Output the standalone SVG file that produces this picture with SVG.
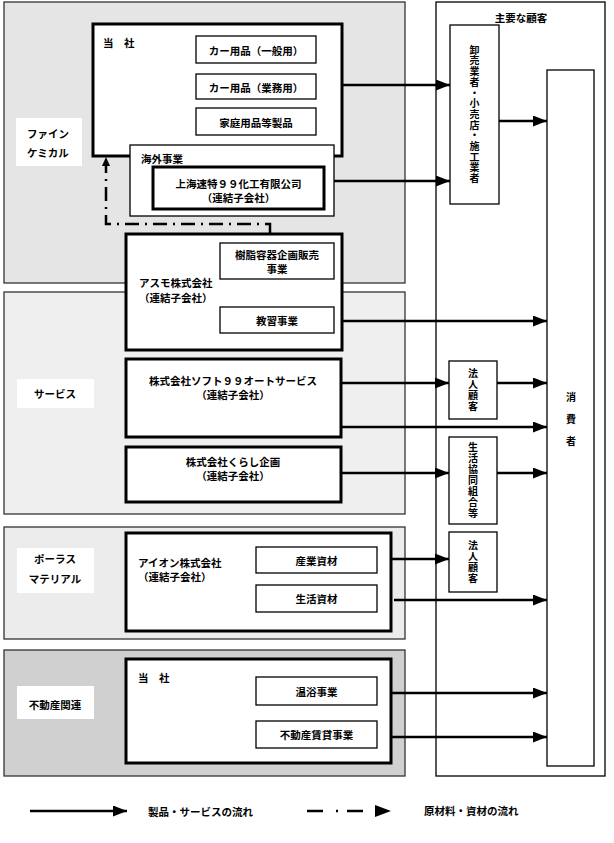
<svg xmlns="http://www.w3.org/2000/svg" width="614" height="843" viewBox="0 0 614 843">
<style>
text{font-family:"Noto Sans CJK JP","Noto Sans",sans-serif;font-size:10.5px;font-weight:bold;fill:#000;dominant-baseline:central}
.c{text-anchor:middle}
.v{writing-mode:vertical-rl;text-anchor:middle;font-size:10px;letter-spacing:1px}
.seg{stroke:#333;stroke-width:1.3}
.thin{fill:#fff;stroke:#000;stroke-width:1.3}
.thick{fill:#fff;stroke:#000;stroke-width:3}
.lbl{fill:#fff;stroke:none}
.flow{fill:none;stroke:#000;stroke-width:2.5}
.raw{fill:none;stroke:#000;stroke-width:2.5;stroke-dasharray:14,6,2,6}
</style>
<defs>
<marker id="ah" markerUnits="userSpaceOnUse" markerWidth="15" markerHeight="12" refX="14" refY="5.5" orient="auto">
<path d="M0,0 L14,5.5 L0,11 z" fill="#000"/>
</marker>
</defs>
<rect width="614" height="843" fill="#fff"/>

<g id="seg-fine">
<rect class="seg" x="4" y="2" width="401" height="281" fill="#e5e5e5"/>
<rect class="lbl" x="16" y="118" width="66" height="48"/>
<text x="27" y="133">ファイン<tspan x="27" y="152">ケミカル</tspan></text>
</g>
<g id="seg-service">
<rect class="seg" x="4" y="292" width="401" height="222" fill="#efefef"/>
<rect class="lbl" x="17" y="379" width="77" height="29"/>
<text class="c" x="55" y="393">サービス</text>
</g>
<g id="seg-porous">
<rect class="seg" x="4" y="527" width="401" height="112" fill="#ececec"/>
<rect class="lbl" x="17" y="548" width="77" height="45"/>
<text class="c" x="55" y="558">ポーラス<tspan x="55" y="578">マテリアル</tspan></text>
</g>
<g id="seg-realestate">
<rect class="seg" x="4" y="650" width="401" height="126" fill="#d0d0d0"/>
<rect class="lbl" x="17" y="686" width="77" height="33"/>
<text class="c" x="55" y="704">不動産関連</text>
</g>

<g id="n-tosha1">
<rect class="thick" x="93" y="24" width="249" height="132"/>
<text x="103" y="42">当　社</text>
</g>
<g id="n-car-general">
<rect class="thin" x="196" y="36" width="120" height="27"/>
<text class="c" x="256" y="50">カー用品（一般用）</text>
</g>
<g id="n-car-business">
<rect class="thin" x="196" y="74" width="120" height="25"/>
<text class="c" x="256" y="87">カー用品（業務用）</text>
</g>
<g id="n-household">
<rect class="thin" x="196" y="108" width="120" height="27"/>
<text class="c" x="256" y="122">家庭用品等製品</text>
</g>
<g id="n-overseas">
<rect class="thin" x="130" y="145" width="204" height="71"/>
<text x="141" y="158">海外事業</text>
</g>
<g id="n-shanghai">
<rect class="thick" x="153" y="167" width="171" height="42"/>
<text class="c" x="238.5" y="183">上海速特９９化工有限公司<tspan x="238.5" y="197">（連結子会社）</tspan></text>
</g>
<g id="n-asmo">
<rect class="thick" x="126" y="234" width="216" height="116"/>
<text x="139" y="282">アスモ株式会社<tspan x="139" y="297">（連結子会社）</tspan></text>
</g>
<g id="n-resin">
<rect class="thin" x="220" y="243" width="114" height="36"/>
<text class="c" x="277" y="254">樹脂容器企画販売<tspan x="277" y="268">事業</tspan></text>
</g>
<g id="n-driving">
<rect class="thin" x="220" y="307" width="114" height="26"/>
<text class="c" x="277" y="320">教習事業</text>
</g>
<g id="n-soft99">
<rect class="thick" x="126" y="359" width="215" height="78"/>
<text class="c" x="233" y="380">株式会社ソフト９９オートサービス<tspan x="233" y="394">（連結子会社）</tspan></text>
</g>
<g id="n-kurashi">
<rect class="thick" x="126" y="447" width="215" height="55"/>
<text class="c" x="233" y="461">株式会社くらし企画<tspan x="233" y="475">（連結子会社）</tspan></text>
</g>
<g id="n-aion">
<rect class="thick" x="126" y="533" width="265" height="98"/>
<text x="138" y="562">アイオン株式会社<tspan x="138" y="576">（連結子会社）</tspan></text>
</g>
<g id="n-industrial">
<rect class="thin" x="256" y="547" width="121" height="26"/>
<text class="c" x="316.5" y="560">産業資材</text>
</g>
<g id="n-living">
<rect class="thin" x="256" y="585" width="121" height="27"/>
<text class="c" x="316.5" y="598">生活資材</text>
</g>
<g id="n-tosha2">
<rect class="thick" x="126" y="659" width="265" height="104"/>
<text x="138" y="677">当　社</text>
</g>
<g id="n-spa">
<rect class="thin" x="256" y="677" width="121" height="28"/>
<text class="c" x="316.5" y="691">温浴事業</text>
</g>
<g id="n-rental">
<rect class="thin" x="256" y="721" width="121" height="27"/>
<text class="c" x="316.5" y="734">不動産賃貸事業</text>
</g>

<g id="n-customers">
<rect class="thin" x="436" y="2" width="169" height="774"/>
<text class="c" x="521" y="17">主要な顧客</text>
</g>
<g id="n-wholesale">
<rect class="thin" x="450" y="25" width="49" height="179"/>
<text class="v" x="474.5" y="114.5" style="letter-spacing:0.7px">卸売業者・小売店・施工業者</text>
</g>
<g id="n-consumer">
<rect class="thin" x="547" y="70" width="47" height="696"/>
<text class="v" x="571" y="425" style="letter-spacing:12px">消費者</text>
</g>
<g id="n-corp1">
<rect class="thin" x="449" y="361" width="48" height="58"/>
<text class="v" x="473" y="390.5">法人顧客</text>
</g>
<g id="n-coop">
<rect class="thin" x="449" y="437" width="48" height="87"/>
<text class="v" x="473" y="481">生活協同組合等</text>
</g>
<g id="n-corp2">
<rect class="thin" x="449" y="532" width="48" height="60"/>
<text class="v" x="473" y="562.5">法人顧客</text>
</g>

<g id="connectors">
<line class="flow" x1="342" y1="85" x2="450" y2="85" marker-end="url(#ah)"/>
<line class="flow" x1="334" y1="181" x2="450" y2="181" marker-end="url(#ah)"/>
<line class="flow" x1="499" y1="121" x2="547" y2="121" marker-end="url(#ah)"/>
<line class="flow" x1="342" y1="321" x2="547" y2="321" marker-end="url(#ah)"/>
<line class="flow" x1="341" y1="383" x2="449" y2="383" marker-end="url(#ah)"/>
<line class="flow" x1="497" y1="383" x2="547" y2="383" marker-end="url(#ah)"/>
<line class="flow" x1="341" y1="427" x2="547" y2="427" marker-end="url(#ah)"/>
<line class="flow" x1="341" y1="473" x2="449" y2="473" marker-end="url(#ah)"/>
<line class="flow" x1="497" y1="473" x2="547" y2="473" marker-end="url(#ah)"/>
<line class="flow" x1="391" y1="559" x2="449" y2="559" marker-end="url(#ah)"/>
<line class="flow" x1="394" y1="600" x2="547" y2="600" marker-end="url(#ah)"/>
<line class="flow" x1="391" y1="693" x2="547" y2="693" marker-end="url(#ah)"/>
<line class="flow" x1="391" y1="737" x2="547" y2="737" marker-end="url(#ah)"/>
<path class="raw" d="M270,233 V224 H106 V164"/>
<path d="M102,166 L106,157 L110,166 z" fill="#000"/>
</g>

<g id="legend">
<line class="flow" x1="30" y1="811" x2="127" y2="811" marker-end="url(#ah)"/>
<text x="148" y="811">製品・サービスの流れ</text>
<line class="flow" x1="307" y1="811" x2="323" y2="811"/>
<line class="flow" x1="336" y1="811" x2="338" y2="811"/>
<line class="flow" x1="347" y1="811" x2="363" y2="811"/>
<path d="M375,805 L391,811 L375,817 z" fill="#000"/>
<text x="424" y="810">原材料・資材の流れ</text>
</g>
</svg>
